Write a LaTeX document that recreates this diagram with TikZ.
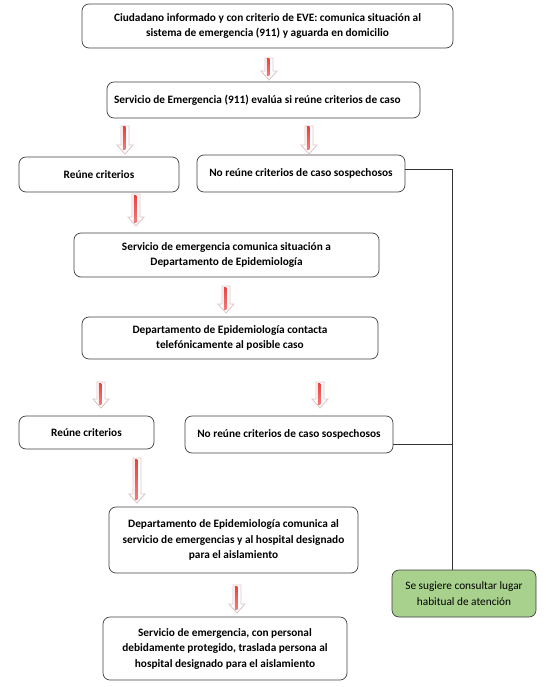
\documentclass[tikz,border=0pt]{standalone}
\usepackage{fontspec}
\setmainfont{Carlito}
\usetikzlibrary{calc}
\definecolor{borde}{RGB}{64,64,64}
\definecolor{verde-suave}{RGB}{169,209,142}
\definecolor{flecha-rojo}{RGB}{238,64,64}
\definecolor{flecha-borde}{RGB}{222,196,196}

\tikzset{
  caja/.style={draw=borde, line width=0.7pt, rounded corners=7pt, fill=white, align=center, inner sep=2pt, font=\fontsize{11.3}{15.5}\selectfont\bfseries},
  caja-verde/.style={caja, fill=verde-suave, font=\fontsize{11.3}{15.5}\selectfont},
  linea/.style={draw=black!80, line width=0.6pt},
  flecha-cuerpo/.style={fill=white, draw=flecha-borde, line width=0.8pt, line join=miter},
  flecha-raya/.style={top color=flecha-rojo, bottom color=flecha-rojo!70},
}
\newcommand{\flecha}[2]{%
  \filldraw[flecha-cuerpo] ($(#1)+(-4,0)$) -- ($(#1)+(4,0)$) -- ($(#2)+(4,-9)$) -- ($(#2)+(8,-9)$) -- (#2) -- ($(#2)+(-8,-9)$) -- ($(#2)+(-4,-9)$) -- cycle;
  \shade[flecha-raya] ($(#1)+(-2.2,1)$) rectangle ($(#2)+(0.4,-4)$);
}

\begin{document}
\begin{tikzpicture}[x=1pt, y=-1pt]
  \useasboundingbox (0,0) rectangle (554,687);

  % Cajas
  \node[caja, minimum width=371pt, minimum height=44pt] (ciud) at (267.5,26) {Ciudadano informado y con criterio de EVE: comunica situación al\\sistema de emergencia (911) y aguarda en domicilio};
  \node[caja, minimum width=313pt, minimum height=36pt, text width=299pt, align=flush left, inner xsep=7pt] (evalua) at (263.5,100) {Servicio de Emergencia (911) evalúa si reúne criterios de caso};
  \node[caja, minimum width=160pt, minimum height=35pt] (reune1) at (99,174.5) {Reúne criterios};
  \node[caja, minimum width=208pt, minimum height=37pt] (noreune1) at (301,173.5) {No reúne criterios de caso sospechosos};
  \node[caja, minimum width=305pt, minimum height=44pt] (comunica) at (226.5,255) {Servicio de emergencia comunica situación a\\Departamento de Epidemiología};
  \node[caja, minimum width=296pt, minimum height=42pt] (contacta) at (230,338) {Departamento de Epidemiología contacta\\telefónicamente al posible caso};
  \node[caja, minimum width=135pt, minimum height=33pt] (reune2) at (86.5,432.5) {Reúne criterios};
  \node[caja, minimum width=208pt, minimum height=37pt] (noreune2) at (289,434.5) {No reúne criterios de caso sospechosos};
  \node[caja, minimum width=249pt, minimum height=66pt] (aviso) at (233.5,540) {Departamento de Epidemiología comunica al\\servicio de emergencias y al hospital designado\\para el aislamiento};
  \node[caja-verde, minimum width=144pt, minimum height=47pt] (atencion) at (464,593.5) {Se sugiere consultar lugar\\habitual de atención};
  \node[caja, minimum width=244pt, minimum height=63pt] (traslado) at (225,648.5) {Servicio de emergencia, con personal\\debidamente protegido, traslada persona al\\hospital designado para el aislamiento};

  % Lineas hacia la caja verde
  \coordinate (bajada) at (452,0);
  \coordinate (salida1) at ($(noreune1.east)+(0,-4)$);
  \coordinate (salida2) at ($(noreune2.south east)+(0,-9)$);
  \draw[linea] (salida1) -| (atencion.north -| bajada);
  \draw[linea] (salida2) -- (salida2 -| bajada);

  % Flechas de bloque
  \coordinate (f1a) at (269,58);  \coordinate (f1b) at (269,80);
  \coordinate (f2a) at (125,126); \coordinate (f2b) at (125,154);
  \coordinate (f3a) at (309,126); \coordinate (f3b) at (309,154);
  \coordinate (f4a) at (136,194); \coordinate (f4b) at (136,226);
  \coordinate (f5a) at (226,286); \coordinate (f5b) at (226,313);
  \coordinate (f6a) at (101,382); \coordinate (f6b) at (101,408);
  \coordinate (f7a) at (320,382); \coordinate (f7b) at (320,408);
  \coordinate (f8a) at (137,458); \coordinate (f8b) at (137,503);
  \coordinate (f9a) at (237,585); \coordinate (f9b) at (237,613);
  \foreach \f in {f1,f2,f3,f4,f5,f6,f7,f8,f9}
    \flecha{\f a}{\f b};
\end{tikzpicture}
\end{document}
